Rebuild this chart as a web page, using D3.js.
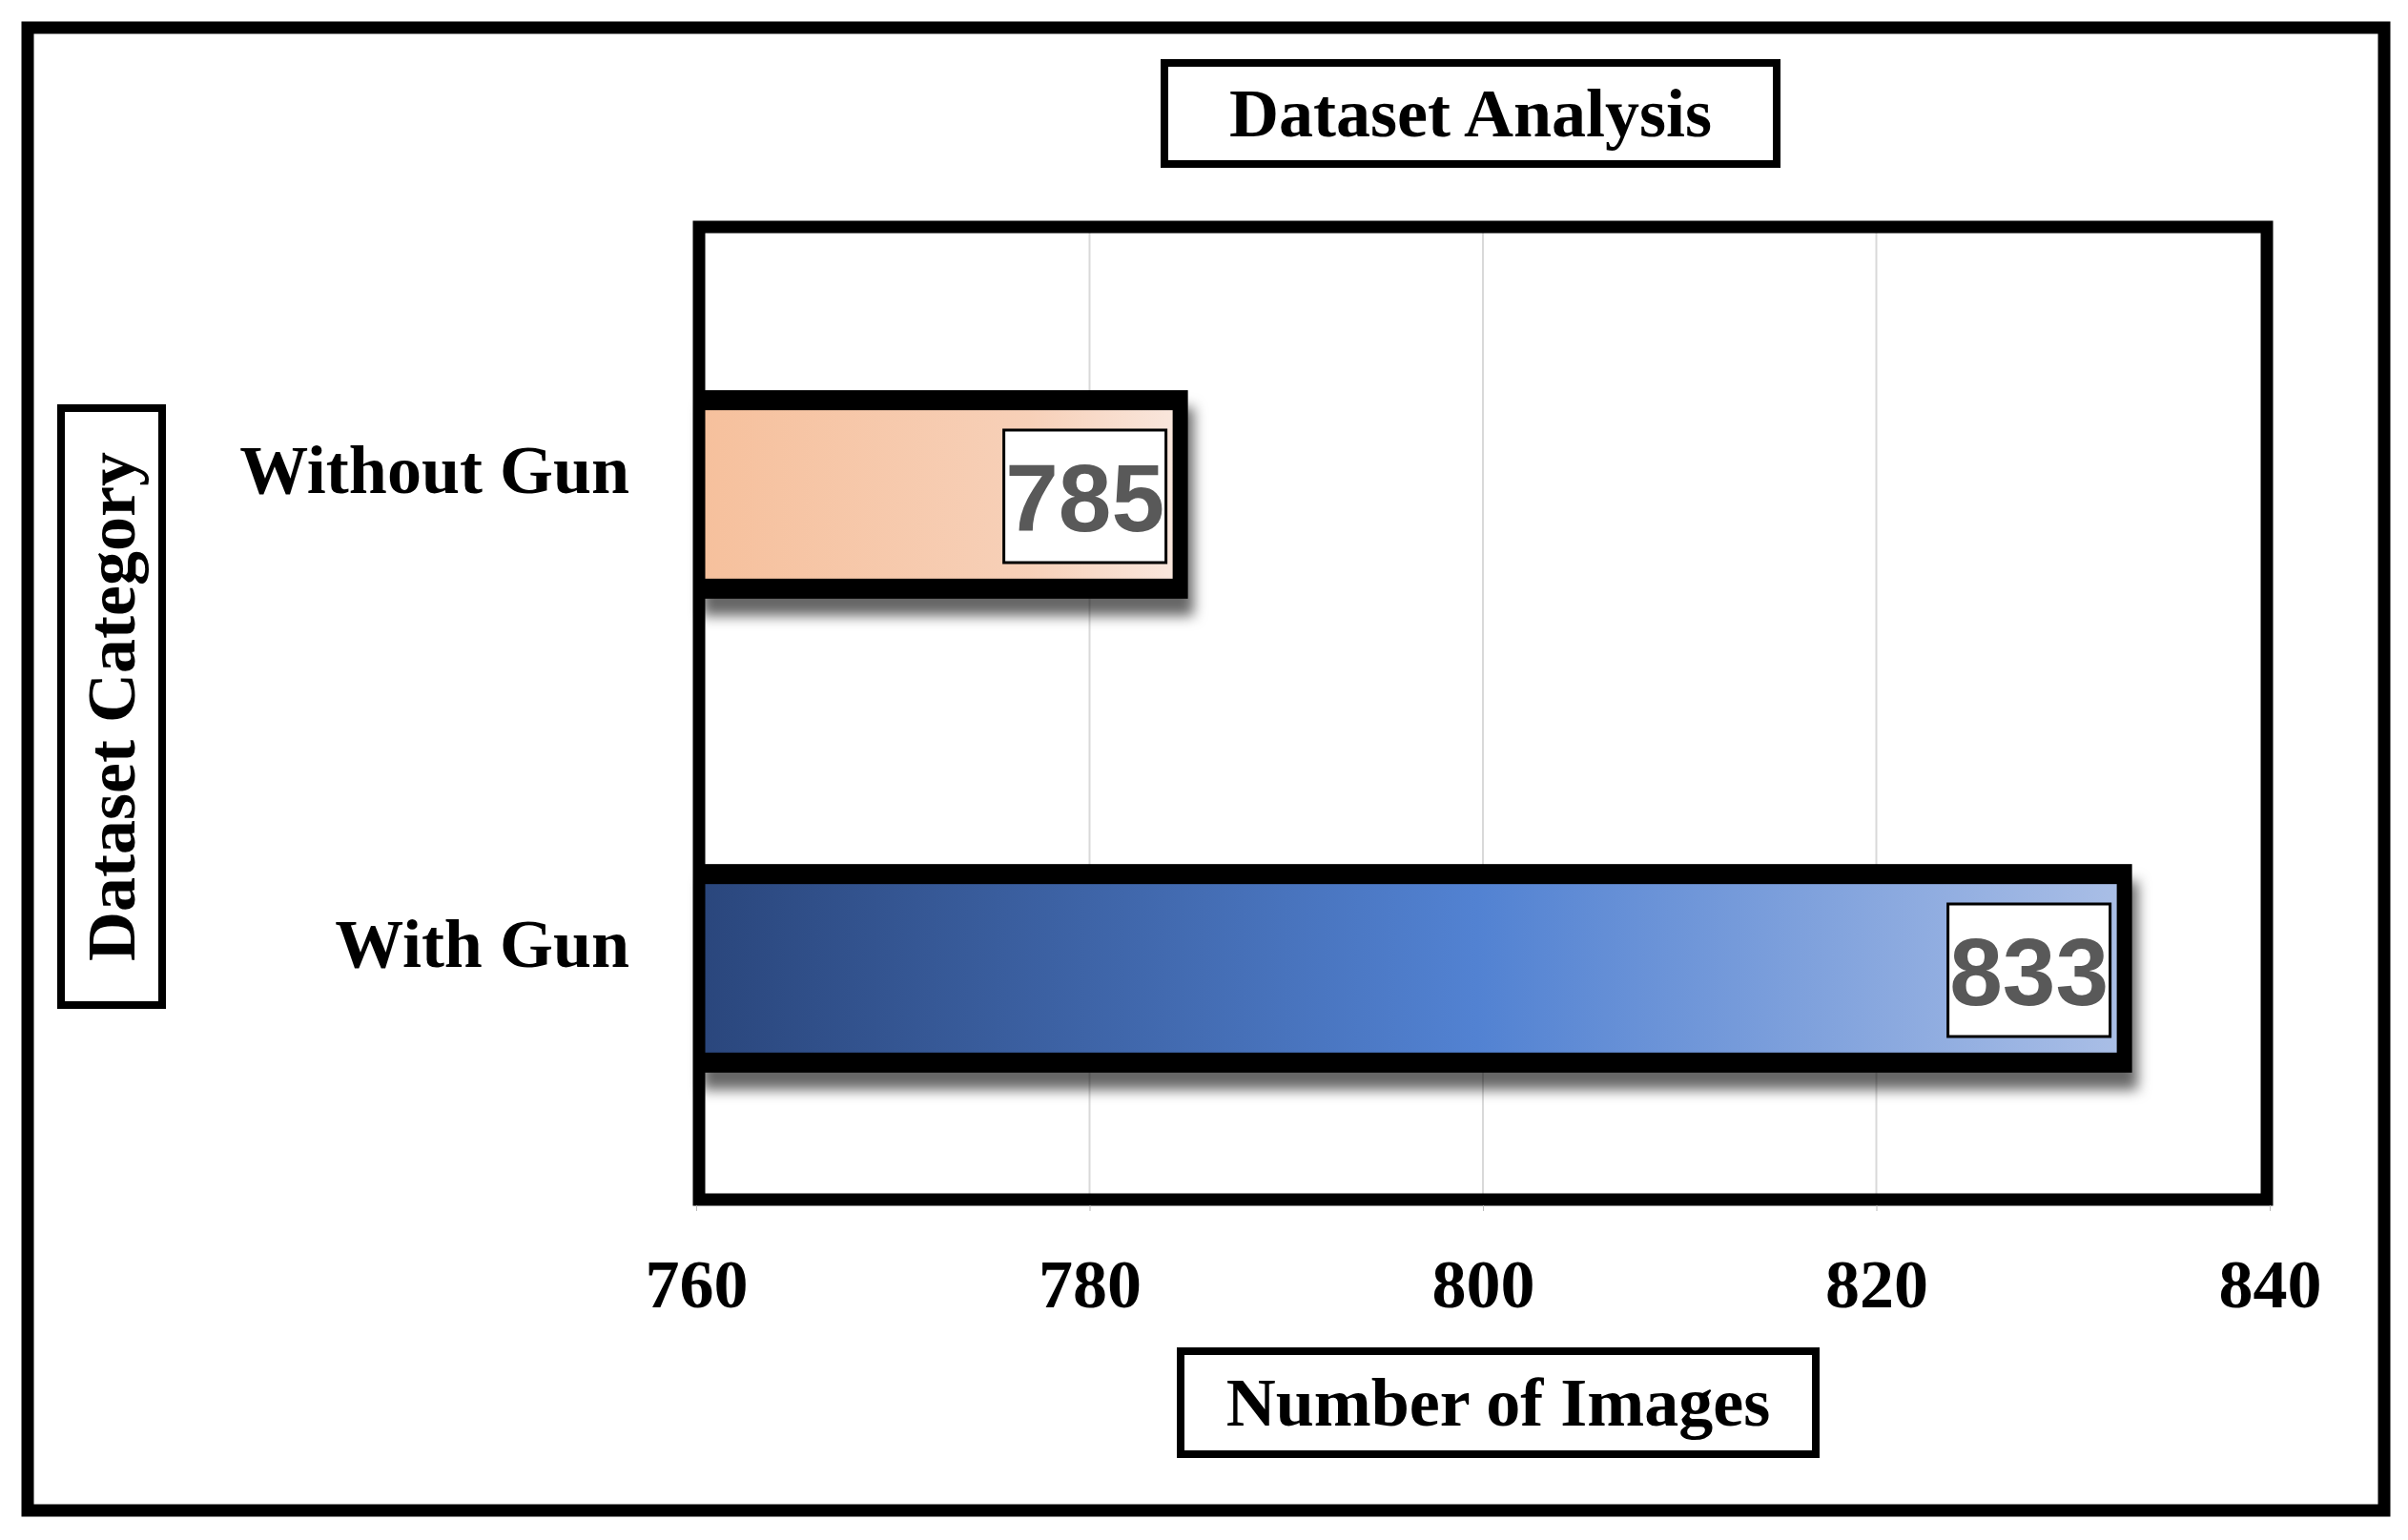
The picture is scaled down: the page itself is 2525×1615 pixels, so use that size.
<!DOCTYPE html>
<html><head><meta charset="utf-8">
<script src="https://cdn.jsdelivr.net/npm/d3@7"></script>
<style>body{margin:0;background:#fff}</style>
</head><body>
<svg id="c" width="2525" height="1615"></svg>
<script>
var categories = ["Without Gun", "With Gun"];
var values = [785, 833];
var ticks = [760, 780, 800, 820, 840];

var svg = d3.select("#c");
var serif = "'Liberation Serif','Times New Roman',serif";

var x = d3.scaleLinear().domain([760, 840]).range([730, 2380]);
var y = d3.scaleBand().domain(categories).range([270, 1264]).paddingInner(0.56).paddingOuter(0.28);

var defs = svg.append("defs");
var g1 = defs.append("linearGradient").attr("id", "gOrange");
g1.append("stop").attr("offset", "0%").attr("stop-color", "#f6c09c");
g1.append("stop").attr("offset", "70%").attr("stop-color", "#f7d0b8");
g1.append("stop").attr("offset", "100%").attr("stop-color", "#f9e6dc");
var g2 = defs.append("linearGradient").attr("id", "gBlue");
g2.append("stop").attr("offset", "0%").attr("stop-color", "#2a467c");
g2.append("stop").attr("offset", "55%").attr("stop-color", "#5282d2");
g2.append("stop").attr("offset", "100%").attr("stop-color", "#a9bee6");
var f = defs.append("filter").attr("id", "sh").attr("x", "-10%").attr("y", "-20%").attr("width", "130%").attr("height", "160%");
f.append("feDropShadow").attr("dx", 6).attr("dy", 18).attr("stdDeviation", 7).attr("flood-color", "#000").attr("flood-opacity", 0.6);

// outer frame
svg.append("rect").attr("x", 29).attr("y", 29).attr("width", 2471).attr("height", 1555)
  .attr("fill", "none").attr("stroke", "#000").attr("stroke-width", 13);

// gridlines
svg.selectAll("line.grid").data(ticks.slice(1, -1)).enter().append("line")
  .attr("x1", d => x(d)).attr("x2", d => x(d)).attr("y1", 238).attr("y2", 1258)
  .attr("stroke", "#d9d9d9").attr("stroke-width", 2);

// bars
var fills = ["url(#gOrange)", "url(#gBlue)"];
categories.forEach(function (c, i) {
  var y0 = y(c), h = y.bandwidth();
  svg.append("rect").attr("x", x(760)).attr("y", y0).attr("width", x(values[i]) - x(760)).attr("height", h)
    .attr("fill", "#000").attr("filter", "url(#sh)");
  svg.append("rect").attr("x", x(760)).attr("y", y0 + 21).attr("width", x(values[i]) - x(760) - 16).attr("height", h - 42)
    .attr("fill", fills[i]);
  // value label
  var bw = 170, bh = 139, bx = x(values[i]) - 23 - bw, by = y0 + h / 2 - bh / 2 + 2;
  svg.append("rect").attr("x", bx).attr("y", by).attr("width", bw).attr("height", bh)
    .attr("fill", "#fff").attr("stroke", "#000").attr("stroke-width", 3);
  svg.append("text").attr("x", bx + bw / 2).attr("y", by + bh / 2 + 36)
    .attr("text-anchor", "middle").attr("font-family", "'Liberation Sans',Arial,sans-serif")
    .attr("font-weight", "bold").attr("font-size", 100).attr("fill", "#595959").text(values[i]);
  // category label
  svg.append("text").attr("x", 660).attr("y", y0 + h / 2 - 2)
    .attr("text-anchor", "end").attr("font-family", serif).attr("font-weight", "bold")
    .attr("font-size", 72).attr("fill", "#000").text(c);
});

// plot frame
svg.append("rect").attr("x", 733).attr("y", 238).attr("width", 1644).attr("height", 1020)
  .attr("fill", "none").attr("stroke", "#000").attr("stroke-width", 13);

// x axis ticks
var ax = svg.append("g").attr("transform", "translate(0,1264)")
  .call(d3.axisBottom(x).tickValues(ticks).tickSize(6).tickPadding(50));
ax.select(".domain").remove();
ax.selectAll("line").attr("stroke", "#bbb");
ax.selectAll("text").attr("font-family", serif).attr("font-weight", "bold").attr("font-size", 72).attr("fill", "#000");

// titles with boxes
function boxed(x0, y0, w, h, txt, rot) {
  svg.append("rect").attr("x", x0).attr("y", y0).attr("width", w).attr("height", h)
    .attr("fill", "#fff").attr("stroke", "#000").attr("stroke-width", 8);
  var cx = x0 + w / 2, cy = y0 + h / 2;
  svg.append("text").attr("transform", "translate(" + cx + "," + cy + ")" + (rot ? " rotate(-90)" : ""))
    .attr("text-anchor", "middle").attr("dy", "0.34em").attr("font-family", serif)
    .attr("font-weight", "bold").attr("font-size", 72).attr("fill", "#000").text(txt);
}
boxed(1221, 66, 642, 106, "Dataset Analysis", false);
boxed(64, 428, 106, 626, "Dataset Category", true);
boxed(1238, 1417, 666, 108, "Number of Images", false);
</script>
</body></html>
